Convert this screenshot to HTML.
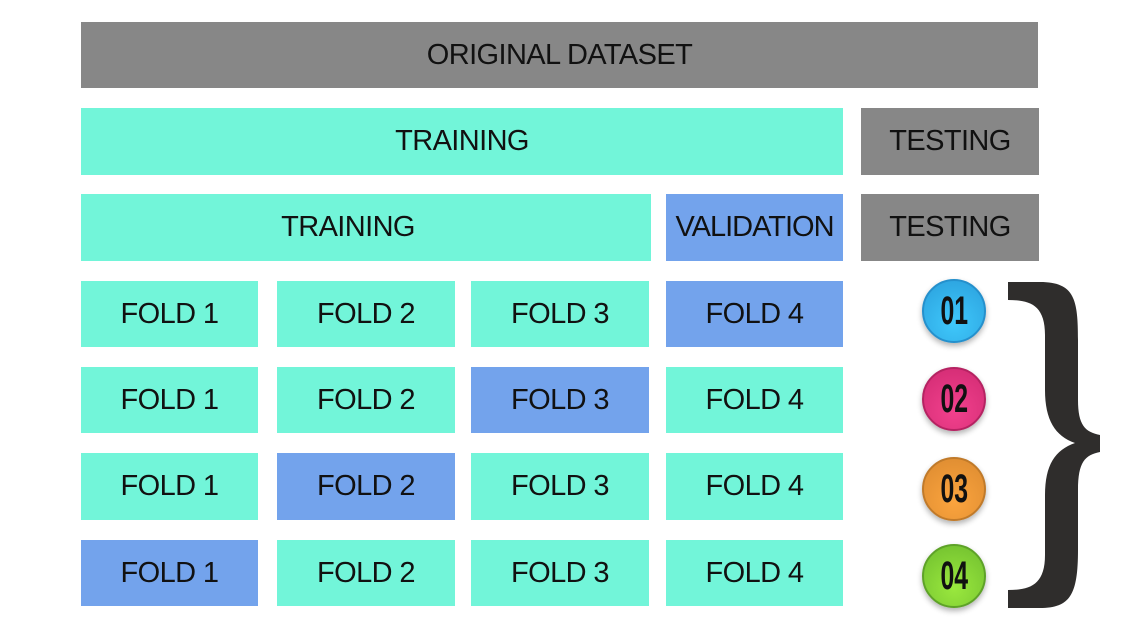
<!DOCTYPE html>
<html><head><style>
body{margin:0;width:1130px;height:627px;background:#fff;position:relative;overflow:hidden;font-family:"Liberation Sans",sans-serif;}
.b{position:absolute;display:flex;align-items:center;justify-content:center;font-size:29px;color:#111;letter-spacing:-0.6px;box-sizing:border-box}
.g{background:#878787}.t{background:#72f5d9}.v{background:#73a3ec}
.c{position:absolute;width:60px;height:60px;border-radius:50%;display:flex;align-items:center;justify-content:center;font-family:"Liberation Sans",sans-serif;font-weight:bold;font-size:40px;color:#111;box-shadow:0 3px 6px rgba(0,0,0,.3)}
.c span{display:inline-block;transform:scaleX(0.62)}
</style></head><body>
<div class="b g" style="left:81px;top:22px;width:957px;height:66px">ORIGINAL DATASET</div>
<div class="b t" style="left:81px;top:108px;width:762px;height:67px">TRAINING</div>
<div class="b g" style="left:861px;top:108px;width:178px;height:67px">TESTING</div>
<div class="b t" style="left:81px;top:194px;width:570px;height:67px;padding-right:36px">TRAINING</div>
<div class="b v" style="left:666px;top:194px;width:177px;height:67px;letter-spacing:-1px">VALIDATION</div>
<div class="b g" style="left:861px;top:194px;width:178px;height:67px">TESTING</div>

<div class="b t" style="left:81px;top:281px;width:177px;height:66px">FOLD 1</div>
<div class="b t" style="left:277px;top:281px;width:178px;height:66px">FOLD 2</div>
<div class="b t" style="left:471px;top:281px;width:178px;height:66px">FOLD 3</div>
<div class="b v" style="left:666px;top:281px;width:177px;height:66px">FOLD 4</div>

<div class="b t" style="left:81px;top:367px;width:177px;height:66px">FOLD 1</div>
<div class="b t" style="left:277px;top:367px;width:178px;height:66px">FOLD 2</div>
<div class="b v" style="left:471px;top:367px;width:178px;height:66px">FOLD 3</div>
<div class="b t" style="left:666px;top:367px;width:177px;height:66px">FOLD 4</div>

<div class="b t" style="left:81px;top:453px;width:177px;height:67px">FOLD 1</div>
<div class="b v" style="left:277px;top:453px;width:178px;height:67px">FOLD 2</div>
<div class="b t" style="left:471px;top:453px;width:178px;height:67px">FOLD 3</div>
<div class="b t" style="left:666px;top:453px;width:177px;height:67px">FOLD 4</div>

<div class="b v" style="left:81px;top:540px;width:177px;height:66px">FOLD 1</div>
<div class="b t" style="left:277px;top:540px;width:178px;height:66px">FOLD 2</div>
<div class="b t" style="left:471px;top:540px;width:178px;height:66px">FOLD 3</div>
<div class="b t" style="left:666px;top:540px;width:177px;height:66px">FOLD 4</div>

<div class="c" style="left:922px;top:279px;background:radial-gradient(circle at 50% 70%,#3fc8fb,#2a9fdc);border:2px solid #2590cc"><span>01</span></div>
<div class="c" style="left:922px;top:367px;background:radial-gradient(circle at 50% 70%,#f2418d,#d02a72);border:2px solid #b52362"><span>02</span></div>
<div class="c" style="left:922px;top:457px;background:radial-gradient(circle at 50% 70%,#fba43e,#db8a30);border:2px solid #c07a2a"><span>03</span></div>
<div class="c" style="left:922px;top:544px;background:radial-gradient(circle at 50% 70%,#9ae83e,#6fbd2e);border:2px solid #5ea228"><span>04</span></div>

<svg style="position:absolute;left:0;top:0" width="1130" height="627">
<path d="M1008 282 L1040 282 C1075 282 1078 300 1078 340 L1078 400 C1078 425 1085 432 1100 435 L1100 452 C1085 455 1078 462 1078 490 L1078 550 C1078 595 1070 608 1040 608 L1008 608 L1008 590 C1030 590 1045 585 1045 555 L1045 495 C1045 465 1055 450 1075 443 C1055 436 1045 420 1045 390 L1045 335 C1045 305 1030 300 1008 300 Z" fill="#2f2d2c"/>
</svg>
</body></html>
